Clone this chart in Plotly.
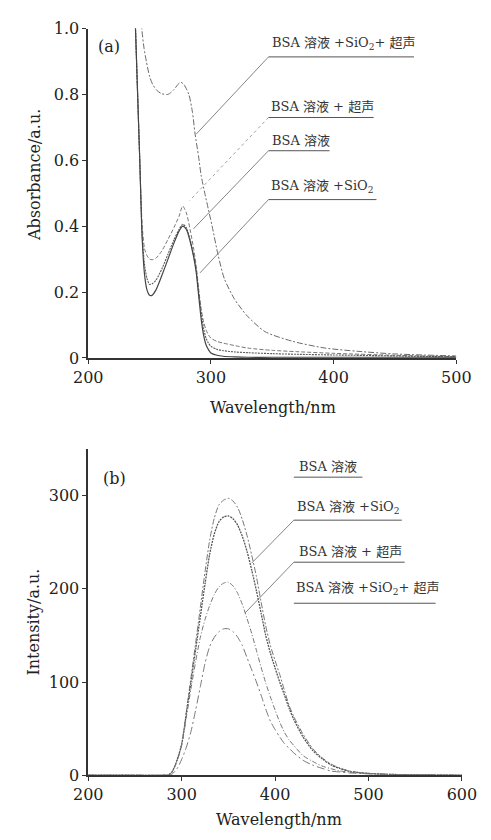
import plotly.graph_objects as go

# ---------------- Panel (a): UV absorbance ----------------
wl_a_top = [241, 243.6, 245.5, 247.4, 250, 252.6, 256, 260, 265, 270, 273, 275.5, 278, 282, 285, 287,
            290, 292, 295, 298, 301, 306, 311, 319, 329, 344, 367, 393, 420, 450, 500]
abs_sio2_us = [1.10, 1.00, 0.94, 0.90, 0.855, 0.83, 0.812, 0.802, 0.80, 0.815, 0.83, 0.837, 0.83, 0.80, 0.745, 0.683,
               0.61, 0.555, 0.50, 0.45, 0.40, 0.31, 0.24, 0.18, 0.13, 0.08, 0.05, 0.03, 0.02, 0.012, 0.006]

wl_a = [238, 240, 242, 244, 246, 248, 250, 252, 255, 260, 265, 270, 274, 277, 280, 283, 286, 288,
        290, 292, 294, 296, 298, 300, 305, 310, 320, 330, 350, 370, 400, 450, 500]
abs_us = [1.06, 0.83, 0.60, 0.40, 0.33, 0.31, 0.30, 0.298, 0.302, 0.325, 0.36, 0.397, 0.43, 0.461, 0.44, 0.39, 0.33, 0.28,
          0.21, 0.15, 0.11, 0.085, 0.07, 0.06, 0.05, 0.045, 0.037, 0.03, 0.023, 0.019, 0.014, 0.008, 0.004]
abs_sio2 = [1.06, 0.83, 0.60, 0.37, 0.28, 0.24, 0.223, 0.225, 0.235, 0.27, 0.315, 0.36, 0.39, 0.406, 0.395, 0.36, 0.31, 0.268,
            0.20, 0.14, 0.09, 0.06, 0.045, 0.035, 0.026, 0.022, 0.018, 0.016, 0.013, 0.011, 0.009, 0.006, 0.003]
abs_bsa = [1.06, 0.83, 0.60, 0.36, 0.25, 0.205, 0.19, 0.19, 0.205, 0.25, 0.30, 0.35, 0.385, 0.40, 0.39, 0.355, 0.305, 0.26,
           0.19, 0.12, 0.07, 0.04, 0.025, 0.015, 0.008, 0.005, 0.003, 0.002, 0.002, 0.002, 0.002, 0.002, 0.002]

a_yticks = [0, 0.2, 0.4, 0.6, 0.8, 1.0]
a_yticktext = ["0", "0.2", "0.4", "0.6", "0.8", "1.0"]
a_xticks = [200, 300, 400, 500]

# ---------------- Panel (b): fluorescence ----------------
wl_b = [200, 250, 280, 286, 290, 295, 300, 305, 310, 315, 320, 325, 330, 335, 340, 345, 350, 355, 360, 365,
        370, 375, 380, 385, 390, 395, 400, 405, 410, 415, 420, 430, 440, 450, 460, 470, 480, 490, 500, 520, 550, 600]
int_bsa = [0, 0, 0, 0.5, 4, 16, 33, 68, 105, 142, 180, 218, 252, 276, 290, 295, 297, 294, 287, 274,
           257, 236, 213, 186, 160, 139, 123, 108, 91, 75, 63, 44, 29, 19, 12, 7.5, 4.5, 3, 2, 1, 0.5, 0]
int_sio2 = [0, 0, 0, 0.5, 4, 16, 33, 66, 100, 135, 170, 205, 237, 259, 272, 277, 278, 275, 268, 256,
            240, 220, 198, 174, 150, 131, 115, 100, 86, 72, 60, 41, 27, 18, 11, 7, 4, 2.8, 2, 1, 0.5, 0]
int_us = [0, 0, 0, 0.5, 4, 15, 32, 62, 93, 122, 148, 167, 182, 194, 202, 206, 207, 203, 195, 183,
          168, 152, 134, 116, 99, 84, 70, 57, 46, 38, 32, 21, 15, 10, 7, 4.5, 3.5, 2.5, 2, 1, 0.5, 0]
int_sio2_us = [0, 0, 0, 0, 1.5, 7, 17, 30, 47, 70, 95, 120, 138, 148, 154, 157, 157, 154, 148, 139,
               126, 113, 100, 86, 71, 58, 49, 41, 34, 29, 24, 16, 11, 7.5, 4.5, 3.5, 2.5, 2, 1.5, 1, 0.5, 0]

b_yticks = [0, 100, 200, 300]
b_xticks = [200, 300, 400, 500, 600]

# ---------------- figure ----------------
W, H = 491, 840
def px(x):
    return x / W
def py(y):
    return 1 - y / H

fig = go.Figure()
sp = dict(shape="spline", smoothing=0.7)

fig.add_trace(go.Scatter(x=wl_a_top, y=abs_sio2_us, mode="lines", xaxis="x", yaxis="y",
                         line=dict(color="#6a6a6a", width=1, dash="6px,2px,2px,2px", **sp)))
fig.add_trace(go.Scatter(x=wl_a, y=abs_us, mode="lines", xaxis="x", yaxis="y",
                         line=dict(color="#777777", width=1, dash="4px,2px", **sp)))
fig.add_trace(go.Scatter(x=wl_a, y=abs_sio2, mode="lines", xaxis="x", yaxis="y",
                         line=dict(color="#5a5a5a", width=1.1, dash="2px,1px", **sp)))
fig.add_trace(go.Scatter(x=wl_a, y=abs_bsa, mode="lines", xaxis="x", yaxis="y",
                         line=dict(color="#444444", width=1.2, **sp)))

fig.add_trace(go.Scatter(x=wl_b, y=int_bsa, mode="lines", xaxis="x2", yaxis="y2",
                         line=dict(color="#777777", width=1, dash="6px,2px,2px,2px", **sp)))
fig.add_trace(go.Scatter(x=wl_b, y=int_sio2, mode="lines", xaxis="x2", yaxis="y2",
                         line=dict(color="#555555", width=1.3, dash="2px,1px", **sp)))
fig.add_trace(go.Scatter(x=wl_b, y=int_us, mode="lines", xaxis="x2", yaxis="y2",
                         line=dict(color="#777777", width=1, dash="5px,2px,1px,2px", **sp)))
fig.add_trace(go.Scatter(x=wl_b, y=int_sio2_us, mode="lines", xaxis="x2", yaxis="y2",
                         line=dict(color="#777777", width=1, dash="8px,3px,2px,3px", **sp)))

tickfont = dict(family="DejaVu Serif", size=16, color="#222")
axis_common = dict(showgrid=False, zeroline=False, showline=True, linecolor="#333", linewidth=1.5,
                   ticks="outside", ticklen=4, tickwidth=1.2, tickcolor="#333", tickfont=tickfont,
                   mirror=False)

fig.update_layout(
    width=W, height=H, margin=dict(l=0, r=0, t=0, b=0),
    paper_bgcolor="white", plot_bgcolor="white", showlegend=False,
    xaxis=dict(domain=[px(78), px(470)], range=[200, 500], tickvals=a_xticks, anchor="y", **axis_common),
    yaxis=dict(domain=[py(357), py(20)], range=[0, 1.0], tickvals=a_yticks, ticktext=a_yticktext,
               anchor="x", **axis_common),
    xaxis2=dict(domain=[px(78), px(476)], range=[200, 600], tickvals=b_xticks, anchor="y2", **axis_common),
    yaxis2=dict(domain=[py(784), py(450)], range=[0, 350], tickvals=b_yticks, anchor="x2", **axis_common),
)

lab_font = dict(family="DejaVu Serif, Noto Sans CJK SC", size=13, color="#333")
title_font = dict(family="DejaVu Serif", size=16, color="#222")

annotations = [
    dict(text="(a)", x=px(86), y=py(38), xanchor="left", yanchor="middle", font=title_font),
    dict(text="(b)", x=px(92), y=py(480), xanchor="left", yanchor="middle", font=title_font),
    dict(text="Wavelength/nm", x=px(275), y=py(408), xanchor="center", yanchor="middle", font=title_font),
    dict(text="Wavelength/nm", x=px(281), y=py(829), xanchor="center", yanchor="middle", font=title_font),
    dict(text="Absorbance/a.u.", x=px(20), y=py(170), xanchor="center", yanchor="middle", textangle=-90, font=title_font),
    dict(text="Intensity/a.u.", x=px(20), y=py(627), xanchor="center", yanchor="middle", textangle=-90, font=title_font),
]

# label text, left x, text y, underline y, underline right x, leader end (x, y) or None, leader style
labels = [
    ("BSA 溶液 +SiO<sub>2</sub>+ 超声", 272, 35, 49, 425, (193, 128), "solid"),
    ("BSA 溶液 + 超声", 270, 100, 111, 382, (186, 196), "dot"),
    ("BSA 溶液", 272, 135, 145, 335, (190, 225), "solid"),
    ("BSA 溶液 +SiO<sub>2</sub>", 270, 182, 195, 385, (197, 270), "solid"),
    ("BSA 溶液", 300, 468, 479, 370, None, "solid"),
    ("BSA 溶液 +SiO<sub>2</sub>", 298, 510, 523, 412, (252, 567), "solid"),
    ("BSA 溶液 + 超声", 300, 555, 566, 415, (245, 618), "solid"),
    ("BSA 溶液 +SiO<sub>2</sub>+ 超声", 297, 593, 608, 448, None, "solid"),
]
shapes = []
for text, lx, ty, uy, ux, lead, ls in labels:
    annotations.append(dict(text=text, x=px(lx), y=py(ty), xanchor="left", yanchor="middle", font=lab_font))
    x0 = lx - 2 if lx > 280 else 270
    x0 = 297 if lx >= 297 else 270
    shapes.append(dict(type="line", xref="paper", yref="paper", x0=px(x0), x1=px(ux), y0=py(uy), y1=py(uy),
                       line=dict(color="#555", width=1)))
    if lead is not None:
        shapes.append(dict(type="line", xref="paper", yref="paper", x0=px(x0), y0=py(uy),
                           x1=px(lead[0]), y1=py(lead[1]),
                           line=dict(color="#888" if ls == "dot" else "#666", width=0.8, dash=ls)))

for a in annotations:
    a.update(xref="paper", yref="paper", showarrow=False)
fig.update_layout(annotations=annotations, shapes=shapes)

fig.write_html("out.html")
